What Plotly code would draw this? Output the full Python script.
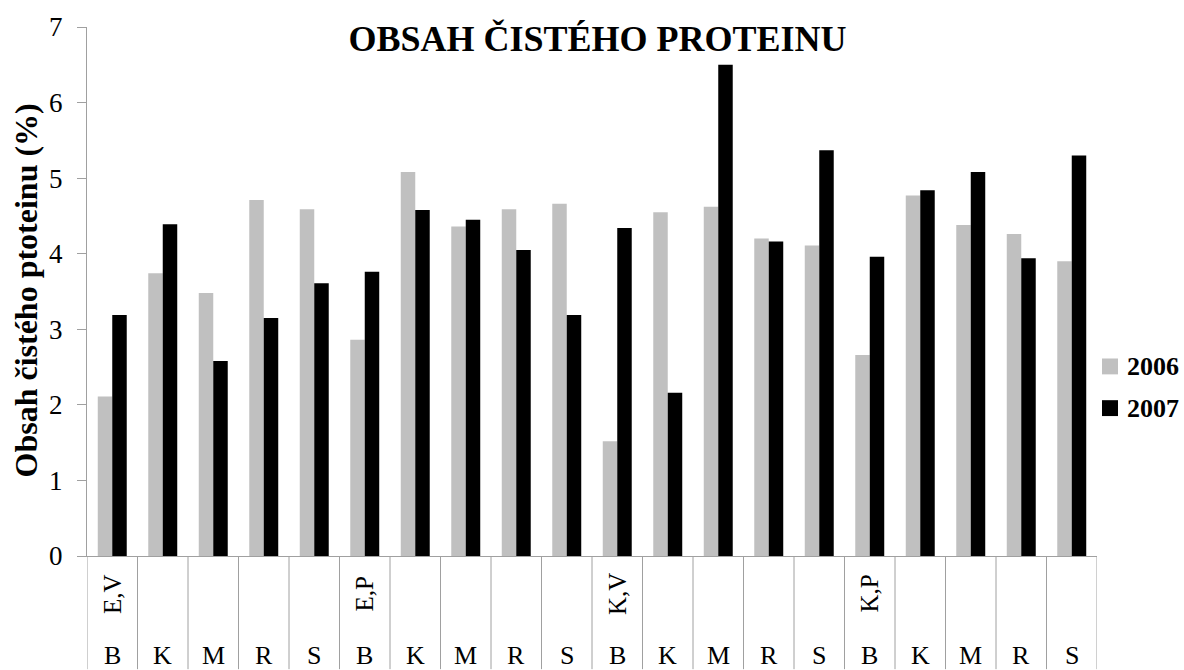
import plotly.graph_objects as go

groups = ["E,V", "E,P", "K,V", "K,P"]
subs = ["B", "K", "M", "R", "S"]
categories = [f"{g} {s}" for g in groups for s in subs]

series_names = ["2006", "2007"]
series_colors = ["#c0c0c0", "#000000"]
vals_2006 = [2.11, 3.74, 3.48, 4.71, 4.59,
             2.86, 5.08, 4.36, 4.59, 4.66,
             1.52, 4.55, 4.62, 4.20, 4.11,
             2.66, 4.77, 4.38, 4.26, 3.90]
vals_2007 = [3.19, 4.39, 2.58, 3.15, 3.61,
             3.76, 4.58, 4.45, 4.05, 3.19,
             4.34, 2.16, 6.50, 4.16, 5.37,
             3.96, 4.84, 5.08, 3.94, 5.30]

FONT = "Liberation Serif, Times New Roman, serif"
GRAY_LINE = "#a0a0a0"

fig = go.Figure()
for name, color, vals in zip(series_names, series_colors, [vals_2006, vals_2007]):
    fig.add_trace(go.Bar(x=categories, y=vals, name=name,
                         marker=dict(color=color, line=dict(width=0)),
                         showlegend=False))

W, H = 1184, 670
L, R, T, B = 87, 87, 23, 114
pw = W - L - R
ph = H - T - B


def px_x(px):
    return (px - L) / pw


def px_y(py):
    return ((H - B) - py) / ph


shapes = []
for i in range(len(categories) + 1):
    shapes.append(dict(type="line", xref="x", yref="paper",
                       x0=i - 0.5, x1=i - 0.5, y0=0, y1=-B / ph,
                       line=dict(color=GRAY_LINE, width=1)))

annotations = []
for i, c in enumerate(categories):
    g, s = c.split(" ")
    annotations.append(dict(x=c, xref="x", yref="paper", y=px_y(656),
                            text=s, showarrow=False, xanchor="center", yanchor="middle",
                            font=dict(family=FONT, size=26, color="black")))
    if s == "B":
        annotations.append(dict(x=c, xref="x", yref="paper", y=px_y(594),
                                text=g, showarrow=False, textangle=-90,
                                xanchor="center", yanchor="middle",
                                font=dict(family=FONT, size=25, color="black")))

annotations.append(dict(x=px_x(26), xref="paper", y=px_y(288.5), yref="paper",
                        text="Obsah čistého ptoteinu (%)", showarrow=False, textangle=-90,
                        xanchor="center", yanchor="middle",
                        font=dict(family=FONT, size=32, color="black", weight="bold")))

# legend drawn as swatches + labels
for k, (name, color) in enumerate(zip(series_names, series_colors)):
    cy = 365 + 42 * k
    shapes.append(dict(type="rect", xref="paper", yref="paper",
                       x0=px_x(1102), x1=px_x(1118), y0=px_y(cy + 8), y1=px_y(cy - 8),
                       fillcolor=color, line=dict(width=0)))
    annotations.append(dict(x=px_x(1125), xref="paper", y=px_y(cy), yref="paper",
                            text=name, showarrow=False, xanchor="left", yanchor="middle",
                            font=dict(family=FONT, size=26, color="black", weight="bold")))

fig.update_layout(
    width=W, height=H,
    margin=dict(l=L, r=R, t=T, b=B, pad=0),
    paper_bgcolor="white", plot_bgcolor="white",
    barmode="group", bargap=0.426, bargroupgap=0,
    showlegend=False,
    title=dict(text="OBSAH ČISTÉHO PROTEINU", x=597.5 / W, xref="container",
               xanchor="center", y=1 - 38 / H, yref="container", yanchor="middle",
               font=dict(family=FONT, size=36, color="black", weight="bold")),
    xaxis=dict(type="category", showticklabels=False, ticks="", showgrid=False,
               showline=True, linecolor=GRAY_LINE, linewidth=1, zeroline=False,
               range=[-0.5, len(categories) - 0.5]),
    yaxis=dict(range=[0, 7], dtick=1, tick0=0, showgrid=False, zeroline=False,
               showline=True, linecolor=GRAY_LINE, linewidth=1,
               ticks="outside", ticklen=9, tickcolor=GRAY_LINE,
               ticklabelstandoff=9,
               tickfont=dict(family=FONT, size=27, color="black")),
    shapes=shapes, annotations=annotations,
)

fig.write_html("out.html")
